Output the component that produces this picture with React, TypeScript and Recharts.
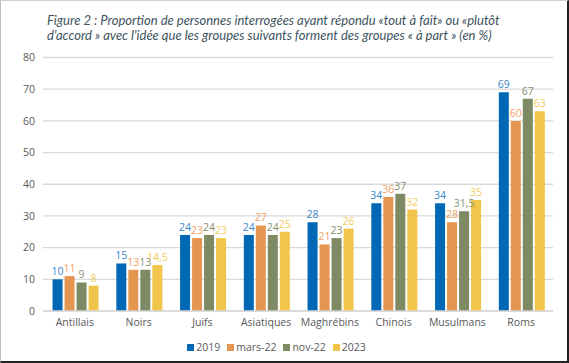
import React from "react";
import {
  Bar,
  BarChart,
  CartesianGrid,
  LabelList,
  Legend,
  XAxis,
  YAxis,
} from "recharts";

const categories = ["Antillais", "Noirs", "Juifs", "Asiatiques", "Maghrébins", "Chinois", "Musulmans", "Roms"];
const y2019 = [10, 15, 24, 24, 28, 34, 34, 69];
const mars22 = [11, 13, 23, 27, 21, 36, 28, 60];
const nov22 = [9, 13, 24, 24, 23, 37, 31.5, 67];
const y2023 = [8, 14.5, 23, 25, 26, 32, 35, 63];
const yTicks = [0, 10, 20, 30, 40, 50, 60, 70, 80];

const series = [
  { key: "y2019", name: "2019", color: "#0068b5", label: "#3b87c9" },
  { key: "mars22", name: "mars-22", color: "#e49550", label: "#eea064" },
  { key: "nov22", name: "nov-22", color: "#7d8a63", label: "#87916f" },
  { key: "y2023", name: "2023", color: "#f0c54a", label: "#f3cc5c" },
];

const data = categories.map((c, i) => ({
  cat: c,
  y2019: y2019[i],
  mars22: mars22[i],
  nov22: nov22[i],
  y2023: y2023[i],
}));

const fmt = (v: any) => String(v).replace(".", ",");

// keep legend in series order (recharts sorts it by name otherwise)
function LegendRow() {
  return (
    <div style={{ display: "flex", justifyContent: "center", gap: 7, fontSize: 10.5, color: "#595959" }}>
      {series.map((s) => (
        <span key={s.key} style={{ display: "inline-flex", alignItems: "center" }}>
          <span style={{ width: 7, height: 7, background: s.color, marginRight: 2, display: "inline-block" }} />
          {s.name}
        </span>
      ))}
    </div>
  );
}

export default function App() {
  return (
    <div
      style={{
        position: "absolute",
        left: 0,
        top: 0,
        width: 569,
        height: 363,
        boxSizing: "border-box",
        background: "#fff",
        borderTop: "1px solid #cfcfcf",
        borderLeft: "1px solid #bdbdbd",
        borderRight: "2px solid #222",
        borderBottom: "2px solid #222",
        fontFamily: "'Open Sans', sans-serif",
      }}
    >
      <div
        style={{
          position: "absolute",
          left: 46,
          top: 12,
          width: 520,
          fontStyle: "italic",
          fontSize: 13,
          lineHeight: "15px",
          color: "#3d5360",
          fontFamily: "Lato, sans-serif",
        }}
      >
        Figure 2 : Proportion de personnes interrogées ayant répondu «tout à fait» ou «plutôt
        <br />
        d'accord » avec l'idée que les groupes suivants forment des groupes « à part » (en %)
      </div>
      <div style={{ position: "absolute", left: -1, top: -1 }}>
        <BarChart
          width={569}
          height={363}
          data={data}
          margin={{ top: 57.5, right: 16, left: 0, bottom: 3 }}
          barCategoryGap="15%"
          barGap={2}
        >
          <CartesianGrid vertical={false} stroke="#d9d9d9" strokeWidth={1.3} />
          <XAxis
            dataKey="cat"
            tickLine={false}
            axisLine={{ stroke: "#d9d9d9", strokeWidth: 1.3 }}
            tick={{ fontSize: 10.5, fill: "#595959" }}
            height={29}
          />
          <YAxis
            domain={[0, 80]}
            ticks={yTicks}
            interval={0}
            width={43}
            tickLine={false}
            axisLine={false}
            tick={{ fontSize: 10.5, fill: "#595959" }}
          />
          <Legend verticalAlign="bottom" align="center" height={20} content={() => <LegendRow />} />
          {series.map((s) => (
            <Bar key={s.key} dataKey={s.key} name={s.name} fill={s.color} isAnimationActive={false}>
              <LabelList
                dataKey={s.key}
                position="top"
                offset={4}
                formatter={fmt}
                style={{ fontSize: 10.5, fill: s.label }}
              />
            </Bar>
          ))}
        </BarChart>
      </div>
    </div>
  );
}
